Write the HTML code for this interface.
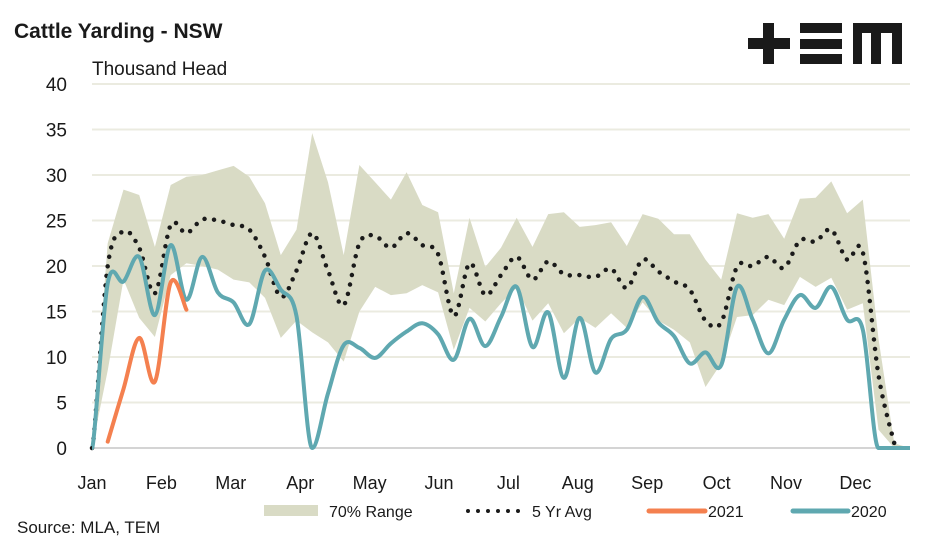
<!DOCTYPE html>
<html><head><meta charset="utf-8">
<style>
html,body{margin:0;padding:0;background:#fff;}
svg{display:block;font-family:"Liberation Sans",Arial,sans-serif;}
</style></head>
<body>
<svg id="chart" width="947" height="543" viewBox="0 0 947 543" xmlns="http://www.w3.org/2000/svg">
  <text x="14" y="38" font-size="21" font-weight="bold" fill="#1a1a1a">Cattle Yarding - NSW</text>
  <text x="92" y="75" font-size="19" fill="#1a1a1a">Thousand Head</text>
  <g fill="#1a1a1a">
    <rect x="748" y="38" width="42" height="11"/>
    <rect x="763" y="23" width="11" height="41"/>
    <rect x="800" y="23" width="42" height="10"/>
    <rect x="800" y="39" width="42" height="10"/>
    <rect x="800" y="54" width="42" height="10"/>
    <path d="M853 23 H902 V64 H892 V33 H881 V64 H871 V33 H862 V64 H853 Z"/>
  </g>
  <g id="grid"></g>
  <g id="yticks"></g>
  <g id="xticks"></g>
  <g id="series"></g>
  <g id="legend">
    <rect x="264" y="505" width="54" height="11" fill="#d9dbc5"/>
    <text x="329" y="517" font-size="16" fill="#1a1a1a">70% Range</text>
    <line x1="468" y1="511" x2="519" y2="511" stroke="#1a1a1a" stroke-width="4" stroke-dasharray="0 10" stroke-linecap="round"/>
    <text x="532" y="517" font-size="16" fill="#1a1a1a">5 Yr Avg</text>
    <line x1="649" y1="511" x2="705" y2="511" stroke="#f4804f" stroke-width="5" stroke-linecap="round"/>
    <text x="708" y="517" font-size="16" fill="#1a1a1a">2021</text>
    <line x1="793" y1="511" x2="848" y2="511" stroke="#5fa8b0" stroke-width="5" stroke-linecap="round"/>
    <text x="851" y="517" font-size="16" fill="#1a1a1a">2020</text>
  </g>
  <text x="17" y="533" font-size="17" fill="#1a1a1a">Source: MLA, TEM</text>
</svg>
<script>
const months = ["Jan","Feb","Mar","Apr","May","Jun","Jul","Aug","Sep","Oct","Nov","Dec"];
const yTicks = [0,5,10,15,20,25,30,35,40];
const rangeUpper = [0,22.5,28.4,27.8,22.1,28.9,29.8,30,30.5,31,29.8,26.9,21.2,24,34.6,29.2,21.2,31.1,29.2,27.3,30.3,26.7,25.9,17,25.3,19.9,22,25.3,22.1,25.7,25.9,24.3,24.5,24.8,22.2,25.7,25.2,23.5,23.5,20.7,18.5,25.8,25.3,25.7,23,27.4,27.5,29.3,25.8,27.3,12,0.5,0];
const rangeLower = [0,8.5,18.5,14.3,12.2,19,20.3,20,19.6,18.5,18.2,16.5,12.1,14,12.7,11.6,9.5,15,17.7,16.8,17,17.9,17.1,10.8,15.4,13.9,15.9,17.6,14,15.9,12.6,14.3,13.2,14.8,13.2,16,14,13,11.6,6.7,9.3,14.4,14.6,16.3,15.7,18.8,17.7,18.7,15.2,15.9,2,0,0];
const avg5yr = [0,20,23.8,22,17,24.5,23.6,25.1,25,24.5,24,21,16.6,19.5,23.6,19.5,15.7,22.5,23.3,22,23.6,22.3,21.3,14.5,20.3,16.8,19,21,18.5,20.5,19.1,19,18.8,19.7,17.6,20.7,19.4,18.3,17.4,14,13.8,19.9,20,21,19.8,22.8,22.7,24,20.7,21.5,8,0.5,null];
const y2021 = [null,0.7,6.5,12.1,7.3,18.2,15.2];
const y2020 = [0,18.1,18.3,21,14.6,22.3,16.3,21,17.1,16,13.6,19.5,17.4,14.5,0,6,11.3,11,9.9,11.5,12.8,13.7,12.5,9.7,14.2,11.2,14.4,17.7,11.1,14.9,7.7,14.3,8.3,12,13,16.6,13.8,12.3,9.3,10.5,9.1,17.7,14.1,10.4,14.1,16.8,15.4,17.7,14.1,13,0,0,0];

const NS = "http://www.w3.org/2000/svg";
const X0 = 92, X1 = 910, Y0 = 448, Y40 = 84;
function xScale(i){ return X0 + i * (X1 - X0) / 52; }
function yScale(v){ return Y0 - v * (Y0 - Y40) / 40; }
function monthX(m){ return X0 + m * 69.4; }
function mk(tag, attrs, parent){
  const e = document.createElementNS(NS, tag);
  for (const k in attrs) e.setAttribute(k, attrs[k]);
  parent.appendChild(e); return e;
}
function smooth(pts){
  if (pts.length < 2) return "";
  let d = "M" + pts[0][0] + " " + pts[0][1];
  const t = 0.5;
  const cl = y => Math.min(y, Y0);
  for (let i = 0; i < pts.length - 1; i++){
    const p0 = pts[i-1] || pts[i], p1 = pts[i], p2 = pts[i+1], p3 = pts[i+2] || p2;
    let c1x = p1[0] + (p2[0]-p0[0])*t/3, c1y = p1[1] + (p2[1]-p0[1])*t/3;
    let c2x = p2[0] - (p3[0]-p1[0])*t/3, c2y = p2[1] - (p3[1]-p1[1])*t/3;
    if (p1[1] >= Y0 - 0.1) c1y = p1[1];
    if (p2[1] >= Y0 - 0.1) c2y = p2[1];
    c1y = cl(c1y); c2y = cl(c2y);
    d += " C" + c1x.toFixed(1) + " " + c1y.toFixed(1) + " " + c2x.toFixed(1) + " " + c2y.toFixed(1) + " " + p2[0].toFixed(1) + " " + p2[1].toFixed(1);
  }
  return d;
}
function pts(arr){ const r=[]; arr.forEach((v,i)=>{ if(v!==null) r.push([xScale(i), yScale(v)]); }); return r; }

const grid = document.getElementById("grid");
const yt = document.getElementById("yticks");
yTicks.forEach(v => {
  const l = mk("line", {x1:X0, x2:X1, y1:yScale(v), y2:yScale(v), stroke: v===0 ? "#d4d4d4" : "#ebebe0", "stroke-width": 2}, grid);
  
  
  const t = mk("text", {x:67, y:yScale(v)+7, "text-anchor":"end", "font-size":19, fill:"#1a1a1a"}, yt);
  t.textContent = v;
  
  
});
const xt = document.getElementById("xticks");
months.forEach((m, i) => {
  const t = mk("text", {x:monthX(i), y:489, "text-anchor":"middle", "font-size":18, fill:"#1a1a1a"}, xt);
  t.textContent = m;
  
  
});

const S = document.getElementById("series");
const up = pts(rangeUpper), lo = pts(rangeLower).reverse();
let bd = "M" + up.map(p=>p[0].toFixed(1)+" "+p[1].toFixed(1)).join(" L") + " L" + lo.map(p=>p[0].toFixed(1)+" "+p[1].toFixed(1)).join(" L") + " Z";
const band = mk("path", {d:bd, fill:"#d9dbc5"}, S);



const avgP = mk("path", {d:smooth(pts(avg5yr)), fill:"none", stroke:"#1a1a1a", "stroke-width":4.5, "stroke-dasharray":"0 9.6", "stroke-linecap":"round"}, S);



const l20 = mk("path", {d:smooth(pts(y2020)), fill:"none", stroke:"#5fa8b0", "stroke-width":4, "stroke-linejoin":"round"}, S);



const l21 = mk("path", {d:smooth(pts(y2021)), fill:"none", stroke:"#f4804f", "stroke-width":4, "stroke-linecap":"round"}, S);


</script>
</body></html>
